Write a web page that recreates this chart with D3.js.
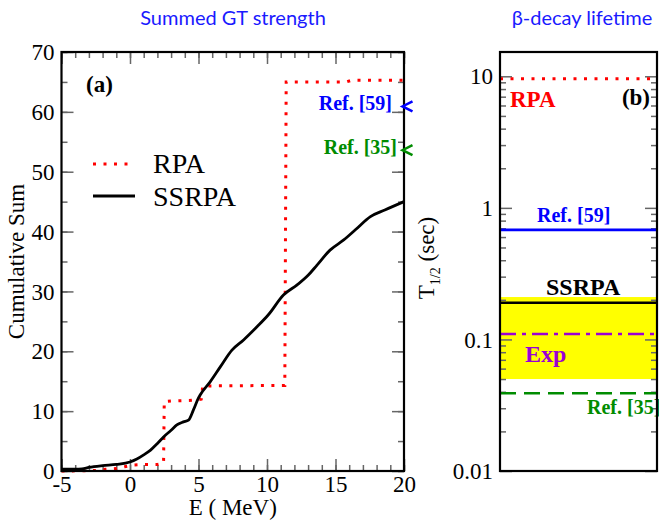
<!DOCTYPE html>
<html>
<head>
<meta charset="utf-8">
<script src="https://cdn.jsdelivr.net/npm/d3@7"></script>
<style>
  html, body { margin: 0; padding: 0; background: #fff; }
  svg { display: block; }
</style>
</head>
<body>
<svg id="chart" width="659" height="521"></svg>
<script>
// ---- Panel (a): cumulative GT strength ----
const xTickValues = [-5, 0, 5, 10, 15, 20];
const ySumTickValues = [0, 10, 20, 30, 40, 50, 60, 70];

// RPA cumulative sum (step-like)
const rpaEnergy = [-5, -3, -2.5, -1.8, -1, -0.4, 0.25, 1, 2, 2.45, 2.5, 3, 4.5, 5.2, 5.25, 5.3, 8, 11.3, 11.4, 14, 15.8, 16.2, 20];
const rpaSum    = [0, 0.05, 0.1, 0.3, 0.4, 0.7, 1.0, 1.1, 1.1, 1.3, 11.6, 11.7, 11.8, 12.0, 12.4, 14.2, 14.25, 14.3, 65.0, 65.0, 65.0, 65.3, 65.3];

// SSRPA cumulative sum
const ssrpaEnergy = [-5, -4, -3.5, -3, -2, -1, 0, 0.5, 1, 1.5, 2, 2.45, 3, 3.42, 3.9, 4.27, 4.63, 5.0, 5.12, 5.85, 6.59, 7.44, 8.29, 9.27, 10.1, 11.2, 12.2, 13.0, 13.65, 14.6, 15.6, 16.45, 17.55, 18.6, 20];
const ssrpaSum    = [0.3, 0.3, 0.35, 0.6, 0.9, 1.1, 1.5, 2.0, 2.7, 3.5, 4.6, 5.7, 6.8, 7.7, 8.2, 8.5, 10.2, 12.2, 12.7, 14.9, 17.4, 20.2, 21.9, 24.1, 26.1, 29.4, 31.1, 32.7, 34.4, 36.9, 38.6, 40.3, 42.5, 43.6, 45.0];

// Total strengths from other works, marked on the right edge
const refLabels = ["Ref. [59]", "Ref. [35]"];
const refSums   = [60.9, 53.6];
const refColors = ["#0000ff", "#008c00"];

// ---- Panel (b): half-lives (sec) ----
const lifeTickValues = [0.01, 0.1, 1, 10];
const lifeLabels = ["RPA", "Ref. [59]", "SSRPA", "Exp", "Ref. [35]"];
const lifeValues = [9.6, 0.68, 0.19, 0.11, 0.039];
const expRange = [0.05, 0.21];

const svg = d3.select("#chart");
const serif = "'Liberation Serif', 'Times New Roman', serif";
const tickColor = "#666";

// Scales
const x = d3.scaleLinear().domain([-5, 20]).range([61.5, 404]);
const y = d3.scaleLinear().domain([0, 70]).range([471, 52]);
const yLog = d3.scaleLog().domain([0.01, 15.3]).range([471, 52]);
const bx0 = 500, bx1 = 657;

// ---------- Titles ----------
svg.append("text").attr("x", 233).attr("y", 25).attr("text-anchor", "middle")
  .attr("font-family", "Lato, 'Open Sans', sans-serif").attr("font-size", 20)
  .attr("fill", "#1a1aff").text("Summed GT strength");
svg.append("text").attr("x", 582).attr("y", 25).attr("text-anchor", "middle")
  .attr("font-family", "Lato, 'Open Sans', sans-serif").attr("font-size", 20)
  .attr("fill", "#1a1aff").text("β-decay lifetime");

// ---------- Panel (a) ----------
const gA = svg.append("g");

function styleTicks(g) {
  g.select(".domain").remove();
  g.selectAll(".tick line").attr("stroke", tickColor).attr("stroke-width", 1.5);
}
const plain = d => String(d);

// minor ticks
const minorX = d3.range(-5, 21, 1);
const minorY = d3.range(0, 71, 5);
gA.append("g").attr("transform", "translate(0,471)")
  .call(d3.axisBottom(x).tickValues(minorX).tickSize(-6).tickFormat(""))
  .call(styleTicks);
gA.append("g").attr("transform", "translate(0,52)")
  .call(d3.axisTop(x).tickValues(minorX).tickSize(-6).tickFormat(""))
  .call(styleTicks);
gA.append("g").attr("transform", "translate(61.5,0)")
  .call(d3.axisLeft(y).tickValues(minorY).tickSize(-6).tickFormat(""))
  .call(styleTicks);
gA.append("g").attr("transform", "translate(404,0)")
  .call(d3.axisRight(y).tickValues(minorY).tickSize(-6).tickFormat(""))
  .call(styleTicks);

// major ticks with labels
const axB = gA.append("g").attr("transform", "translate(0,471)")
  .call(d3.axisBottom(x).tickValues(xTickValues).tickSize(-12).tickFormat(plain))
  .call(styleTicks);
axB.selectAll("text").attr("y", 21).attr("dy", 0).attr("font-family", serif)
  .attr("font-size", 23).attr("fill", "#000");
gA.append("g").attr("transform", "translate(0,52)")
  .call(d3.axisTop(x).tickValues(xTickValues).tickSize(-12).tickFormat(""))
  .call(styleTicks);
const axL = gA.append("g").attr("transform", "translate(61.5,0)")
  .call(d3.axisLeft(y).tickValues(ySumTickValues).tickSize(-12).tickFormat(plain))
  .call(styleTicks);
axL.selectAll("text").attr("x", -7).attr("dy", "0.33em").attr("font-family", serif)
  .attr("font-size", 23).attr("fill", "#000");
gA.append("g").attr("transform", "translate(404,0)")
  .call(d3.axisRight(y).tickValues(ySumTickValues).tickSize(-12).tickFormat(""))
  .call(styleTicks);

// curves
const lineA = d3.line().x(d => x(d[0])).y(d => y(d[1]));
gA.append("path")
  .datum(rpaEnergy.map((e, i) => [e, rpaSum[i]]))
  .attr("d", lineA).attr("fill", "none").attr("stroke", "#ff0000")
  .attr("stroke-width", 3).attr("stroke-dasharray", "3,7.5");
gA.append("path")
  .datum(ssrpaEnergy.map((e, i) => [e, ssrpaSum[i]]))
  .attr("d", lineA.curve(d3.curveMonotoneX)).attr("fill", "none").attr("stroke", "#000")
  .attr("stroke-width", 2.8);

// frame
gA.append("rect").attr("x", x(-5)).attr("y", y(70))
  .attr("width", x(20) - x(-5)).attr("height", y(0) - y(70))
  .attr("fill", "none").attr("stroke", "#000").attr("stroke-width", 2.2);

// reference markers (chevrons at the right edge)
refSums.forEach((v, i) => {
  const yy = y(v), xx = x(20) - 1.5;
  gA.append("path")
    .attr("d", `M${xx + 10},${yy - 5} L${xx},${yy} L${xx + 10},${yy + 5}`)
    .attr("fill", "none").attr("stroke", refColors[i]).attr("stroke-width", 2.5);
  gA.append("text").attr("x", i === 0 ? 392 : 397).attr("y", yy + 4)
    .attr("text-anchor", "end").attr("font-family", serif).attr("font-weight", "bold")
    .attr("font-size", 20).attr("fill", refColors[i]).text(refLabels[i]);
});

// panel tag and legend
gA.append("text").attr("x", 86).attr("y", 92).attr("font-family", serif)
  .attr("font-weight", "bold").attr("font-size", 23).text("(a)");
gA.append("line").attr("x1", 93).attr("x2", 131).attr("y1", 164).attr("y2", 164)
  .attr("stroke", "#ff0000").attr("stroke-width", 3).attr("stroke-dasharray", "3,7.5");
gA.append("text").attr("x", 153).attr("y", 173).attr("font-family", serif)
  .attr("font-size", 28).text("RPA");
gA.append("line").attr("x1", 93).attr("x2", 135).attr("y1", 196).attr("y2", 196)
  .attr("stroke", "#000").attr("stroke-width", 2.8);
gA.append("text").attr("x", 153).attr("y", 206).attr("font-family", serif)
  .attr("font-size", 28).text("SSRPA");

// axis titles
gA.append("text").attr("x", x(7.5)).attr("y", 515).attr("text-anchor", "middle")
  .attr("font-family", serif).attr("font-size", 23).text("E ( MeV)");
gA.append("text").attr("transform", `translate(24,${y(35)}) rotate(-90)`)
  .attr("text-anchor", "middle").attr("font-family", serif).attr("font-size", 23)
  .text("Cumulative Sum");

// ---------- Panel (b) ----------
const gB = svg.append("g");

// experimental band
gB.append("rect").attr("x", bx0).attr("width", bx1 - bx0)
  .attr("y", yLog(expRange[1])).attr("height", yLog(expRange[0]) - yLog(expRange[1]))
  .attr("fill", "#ffff00");

// ticks
const minorLog = [];
[0.01, 0.1, 1, 10].forEach(dec => {
  for (let m = 2; m <= 9; m++) { const v = dec * m; if (v <= 15.3) minorLog.push(v); }
});
gB.append("g").attr("transform", `translate(${bx0},0)`)
  .call(d3.axisLeft(yLog).tickValues(minorLog).tickSize(-6).tickFormat(""))
  .call(styleTicks);
gB.append("g").attr("transform", `translate(${bx1},0)`)
  .call(d3.axisRight(yLog).tickValues(minorLog).tickSize(-6).tickFormat(""))
  .call(styleTicks);
const axLog = gB.append("g").attr("transform", `translate(${bx0},0)`)
  .call(d3.axisLeft(yLog).tickValues(lifeTickValues).tickSize(-12).tickFormat(plain))
  .call(styleTicks);
axLog.selectAll("text").attr("x", -7).attr("dy", "0.33em").attr("font-family", serif)
  .attr("font-size", 23).attr("fill", "#000");
gB.append("g").attr("transform", `translate(${bx1},0)`)
  .call(d3.axisRight(yLog).tickValues(lifeTickValues).tickSize(-12).tickFormat(""))
  .call(styleTicks);

// half-life lines
const lifeColors = ["#ff0000", "#0000ff", "#000000", "#9b00d3", "#008c00"];
const lifeDash = ["3,7.5", null, null, "16,6,4,6", "16,8"];
lifeValues.forEach((v, i) => {
  gB.append("line").attr("x1", bx0).attr("x2", bx1)
    .attr("y1", yLog(v)).attr("y2", yLog(v))
    .attr("stroke", lifeColors[i]).attr("stroke-width", i === 0 ? 3 : 2.6)
    .attr("stroke-dasharray", lifeDash[i]);
});

// line labels
const lifeLabelX = [510, 537, 546, 525, 587];
const lifeLabelDy = [28, -8, -8, 28, 21];
const lifeLabelSize = [23, 20, 24, 24, 20];
lifeLabels.forEach((t, i) => {
  gB.append("text").attr("x", lifeLabelX[i]).attr("y", yLog(lifeValues[i]) + lifeLabelDy[i])
    .attr("font-family", serif).attr("font-weight", "bold")
    .attr("font-size", lifeLabelSize[i]).attr("fill", lifeColors[i]).text(t);
});

// frame
gB.append("rect").attr("x", bx0).attr("y", yLog.range()[1])
  .attr("width", bx1 - bx0).attr("height", yLog.range()[0] - yLog.range()[1])
  .attr("fill", "none").attr("stroke", "#000").attr("stroke-width", 2.2);

gB.append("text").attr("x", 650).attr("y", 105).attr("text-anchor", "end")
  .attr("font-family", serif).attr("font-weight", "bold").attr("font-size", 23).text("(b)");

// y title: T_{1/2} (sec)
const yt = gB.append("text").attr("transform", "translate(434,258) rotate(-90)")
  .attr("text-anchor", "middle").attr("font-family", serif).attr("font-size", 23);
yt.append("tspan").text("T");
yt.append("tspan").attr("font-size", 14).attr("dy", 6).text("1/2");
yt.append("tspan").attr("dy", -6).text("  (sec)");
</script>
</body>
</html>
